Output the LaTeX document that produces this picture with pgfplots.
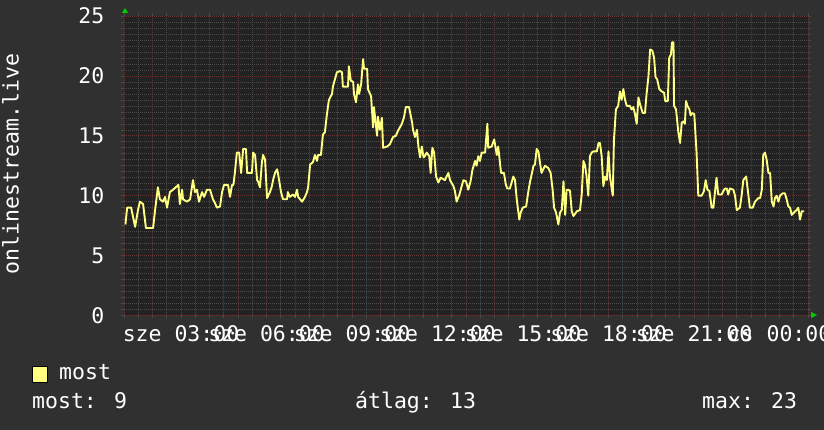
\documentclass[border=0pt]{standalone}
\usepackage{fontspec}
\setmainfont{DejaVu Sans Mono}
\usepackage{pgfplots}
\pgfplotsset{compat=1.18}

\definecolor{canvasbg}{HTML}{303030}
\definecolor{plotbg}{HTML}{222222}
\definecolor{mgrid}{HTML}{6B3434}
\definecolor{sgrid}{HTML}{4A4A4A}
\definecolor{trace}{HTML}{FFFF80}
\definecolor{arrowgreen}{HTML}{00CC00}

\newcommand\rrdfont{\fontsize{21.5}{24}\selectfont}

\begin{document}
\begin{tikzpicture}[x=1pt,y=1pt]
\fill[canvasbg] (0,0) rectangle (824,430);
\useasboundingbox (0,0) rectangle (824,430);
\begin{axis}[
  at={(124pt,114.5pt)}, anchor=south west,
  scale only axis, width=684pt, height=299.5pt,
  xmin=1, xmax=25, ymin=0, ymax=25,
  axis background/.style={fill=plotbg},
  axis line style={draw=none},
  xtick={1,...,25},
  xticklabels={,,sze 03:00,,,sze 06:00,,,sze 09:00,,,sze 12:00,,,sze 15:00,,,sze 18:00,,,sze 21:00,,,cs 00:00,},
  minor x tick num=1,
  ytick={0,5,...,25},
  minor y tick num=9,
  grid=both,
  major grid style={mgrid, dash pattern=on 1pt off 1pt, line width=0.6pt},
  minor grid style={sgrid, dash pattern=on 1pt off 1pt, line width=0.6pt},
  tick align=outside,
  major tick length=3pt, minor tick length=3pt,
  tick style={sgrid, line width=0.6pt},
  /pgf/number format/assume math mode=true,
  every tick label/.append style={font=\rrdfont, text=white},
  xticklabel style={anchor=base, inner sep=0pt, yshift=-23pt},
  yticklabel style={anchor=east, inner sep=0pt, xshift=-16.5pt},
  clip=true,
]
\addplot[trace, line width=1.9pt, line join=round] coordinates {
(1.05,7.6) (1.11,9.0) (1.25,9.0) (1.39,7.4) (1.49,8.8) (1.56,9.5) (1.67,9.3) (1.77,7.3)
(2.02,7.3) (2.09,8.8) (2.19,10.7) (2.26,9.7) (2.37,9.5) (2.44,9.9) (2.51,9.0) (2.61,10.3)
(2.72,10.5) (2.86,10.8) (2.91,10.9) (2.96,9.3) (3.04,10.5) (3.07,9.7) (3.21,9.5) (3.32,9.7)
(3.42,11.3) (3.49,10.3) (3.56,10.5) (3.63,9.5) (3.74,10.3) (3.81,9.9) (3.91,10.5) (4.02,10.5)
(4.12,9.7) (4.19,9.4) (4.26,9.0) (4.37,9.1) (4.44,10.3) (4.51,10.9) (4.65,10.9) (4.72,9.9)
(4.79,10.9) (4.84,10.9) (4.89,11.9) (4.96,13.6) (5.04,13.6) (5.11,11.9) (5.18,13.9) (5.28,13.9)
(5.32,11.9) (5.49,11.9) (5.53,13.6) (5.60,13.4) (5.67,11.3) (5.70,11.2) (5.77,10.7) (5.84,12.8)
(5.88,13.4) (5.95,13.0) (6.02,9.8) (6.12,10.3) (6.19,10.8) (6.23,11.3) (6.30,11.9) (6.37,12.2)
(6.40,11.9) (6.51,10.3) (6.58,9.7) (6.72,9.7) (6.75,10.3) (6.82,9.9) (6.93,10.1) (7.00,9.9)
(7.07,10.5) (7.11,9.9) (7.25,9.5) (7.35,9.9) (7.42,10.3) (7.46,10.7) (7.53,12.6) (7.63,12.8)
(7.70,13.4) (7.77,12.9) (7.81,13.4) (7.91,13.4) (7.98,15.1) (8.05,15.3) (8.12,16.8) (8.19,18.0)
(8.30,18.5) (8.33,19.1) (8.40,19.7) (8.47,20.3) (8.58,20.4) (8.65,20.3) (8.68,19.1) (8.86,19.1)
(8.89,20.8) (8.96,19.6) (9.04,19.5) (9.07,18.5) (9.14,17.8) (9.21,19.3) (9.25,18.5) (9.32,19.3)
(9.39,21.4) (9.42,20.6) (9.53,20.6) (9.56,18.9) (9.67,18.3) (9.74,15.7) (9.77,17.4) (9.88,15.0)
(9.91,16.6) (9.98,15.5) (10.05,16.5) (10.09,14.0) (10.23,14.1) (10.33,14.3) (10.44,14.9) (10.54,15.0)
(10.61,15.4) (10.75,16.0) (10.82,16.5) (10.89,17.4) (11.00,17.4) (11.11,16.1) (11.14,15.5) (11.21,14.9)
(11.28,15.5) (11.33,14.1) (11.39,13.2) (11.45,14.1) (11.51,13.2) (11.56,13.3) (11.62,13.6) (11.71,13.3)
(11.76,11.9) (11.82,14.0) (11.88,13.6) (11.95,11.6) (12.03,11.1) (12.11,11.5) (12.26,11.3) (12.38,11.9)
(12.44,11.3) (12.56,10.8) (12.61,10.4) (12.67,9.5) (12.77,10.1) (12.85,10.8) (12.91,11.3) (13.00,11.2)
(13.08,10.5) (13.16,11.2) (13.23,12.2) (13.32,12.9) (13.37,12.5) (13.43,13.3) (13.49,12.9) (13.55,13.6)
(13.67,13.6) (13.75,16.0) (13.78,14.0) (13.90,14.1) (13.99,14.7) (14.08,13.4) (14.13,14.1) (14.23,11.9)
(14.33,11.9) (14.40,10.9) (14.45,10.6) (14.54,10.6) (14.60,11.1) (14.66,11.6) (14.72,11.3) (14.78,9.7)
(14.87,8.0) (14.92,8.6) (14.99,9.0) (15.11,9.1) (15.19,10.4) (15.25,11.2) (15.37,12.5) (15.42,12.6)
(15.48,13.9) (15.54,13.7) (15.60,12.7) (15.65,11.9) (15.71,12.2) (15.77,12.5) (15.89,12.3) (15.97,11.9)
(16.04,10.5) (16.09,9.0) (16.16,8.6) (16.24,7.6) (16.30,8.6) (16.36,8.8) (16.42,11.2) (16.48,8.4)
(16.53,10.5) (16.59,10.5) (16.65,10.4) (16.71,8.7) (16.77,8.3) (16.89,8.7) (17.00,8.8) (17.06,10.1)
(17.12,12.9) (17.18,12.5) (17.23,11.6) (17.29,10.0) (17.35,13.3) (17.41,13.6) (17.47,13.7) (17.59,13.7)
(17.65,14.4) (17.70,14.4) (17.76,13.3) (17.82,10.8) (17.88,11.6) (17.94,11.3) (18.00,13.7) (18.05,11.6)
(18.15,10.0) (18.19,14.6) (18.26,17.2) (18.34,17.5) (18.40,18.7) (18.46,18.0) (18.52,18.9) (18.58,18.0)
(18.64,17.5) (18.75,17.5) (18.81,17.2) (18.87,17.4) (18.93,16.8) (18.99,16.0) (19.05,18.2) (19.11,17.6)
(19.20,16.9) (19.28,16.9) (19.34,18.6) (19.40,19.9) (19.46,22.2) (19.54,22.1) (19.60,21.5) (19.65,19.9)
(19.71,19.7) (19.78,18.9) (19.87,18.7) (19.95,18.6) (19.99,17.9) (20.08,17.9) (20.13,21.5) (20.19,21.8)
(20.23,22.8) (20.28,22.8) (20.30,17.5) (20.37,17.2) (20.45,15.3) (20.51,14.4) (20.57,16.1) (20.63,16.2)
(20.68,16.0) (20.72,17.9) (20.77,17.5) (20.84,17.2) (20.88,16.7) (20.94,16.9) (21.01,16.8) (21.09,13.6)
(21.15,10.0) (21.27,10.0) (21.35,10.4) (21.41,11.3) (21.47,10.5) (21.54,10.4) (21.62,9.0) (21.68,9.0)
(21.74,10.4) (21.79,11.5) (21.85,10.1) (21.97,10.1) (22.03,10.4) (22.09,10.6) (22.15,10.6) (22.20,10.1)
(22.26,10.6) (22.38,10.5) (22.44,10.0) (22.50,8.8) (22.61,9.0) (22.67,10.0) (22.73,11.3) (22.83,11.6)
(22.87,10.8) (22.91,10.0) (22.96,9.0) (23.06,9.0) (23.14,9.5) (23.26,9.8) (23.32,9.8) (23.38,10.5)
(23.43,13.4) (23.49,13.6) (23.55,13.0) (23.61,11.9) (23.67,11.9) (23.73,9.5) (23.79,9.1) (23.84,9.8)
(23.90,10.0) (23.96,9.5) (24.02,10.0) (24.11,10.2) (24.19,10.2) (24.25,9.7) (24.31,9.1) (24.37,9.0)
(24.43,8.4) (24.55,8.7) (24.60,8.8) (24.66,9.0) (24.72,8.0) (24.78,8.7) (24.86,8.7)
};
\end{axis}
% axis arrows
\fill[arrowgreen] (122,417) -- (128,417) -- (125,422) -- cycle;
\fill[arrowgreen] (811,112) -- (811,118) -- (817,115) -- cycle;
% vertical label
\node[rotate=90, anchor=base, inner sep=0pt, font=\rrdfont, text=white] at (18.5,266) {onlinestream.live};
% legend and summary
\filldraw[fill=trace, draw=black, line width=0.8pt] (32,48) rectangle (47,64);
\node[anchor=base west, inner sep=0pt, font=\rrdfont, text=white] at (59,50) {most};
\node[anchor=base west, inner sep=0pt, font=\rrdfont, text=white] at (32,21) {most: 9};
\node[anchor=base west, inner sep=0pt, font=\rrdfont, text=white] at (355,21) {átlag: 13};
\node[anchor=base west, inner sep=0pt, font=\rrdfont, text=white] at (702,21) {max: 23};
\end{tikzpicture}
\end{document}
